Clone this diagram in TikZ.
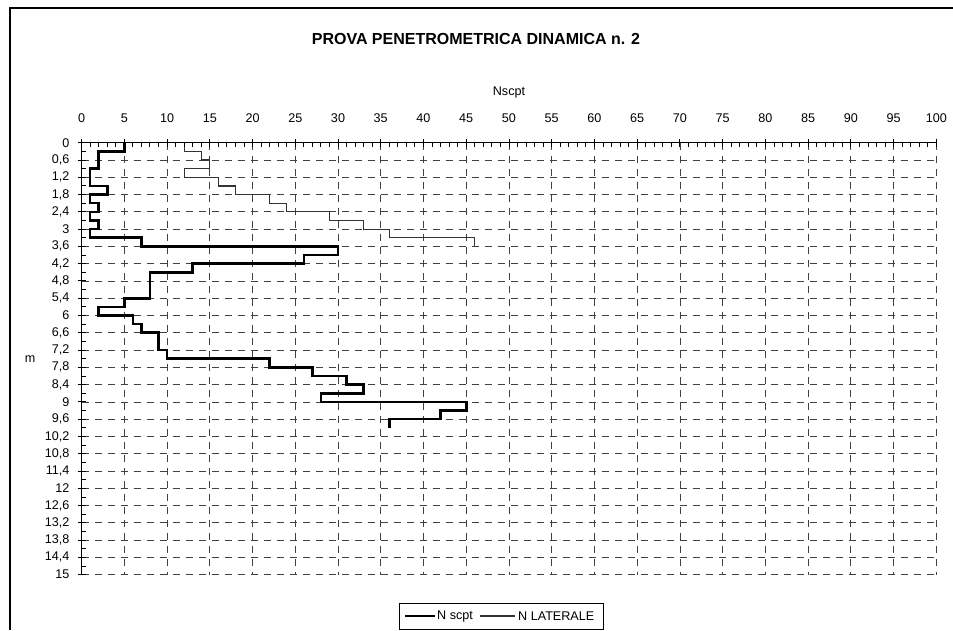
\documentclass[tikz,border=0pt]{standalone}
\usepackage{fontspec}
\setmainfont{Liberation Sans}
\begin{document}
\begin{tikzpicture}[x=1pt,y=-1pt,
  font=\fontsize{12.6}{14}\selectfont,
  gridline/.style={black!75, line width=0.8pt, dash pattern=on 7pt off 6pt},
  axisline/.style={black, line width=1.2pt},
  tickline/.style={black, line width=0.9pt},
  nscpt/.style={black, line width=2.6pt, line join=miter},
  nlat/.style={black!80, line width=1.2pt, line join=miter},
  lbl/.style={inner sep=0pt}]
\useasboundingbox (0,0) rectangle (953,630);
\fill[white] (0,0) rectangle (953,630);
% frame
\coordinate (fa) at (10,630);
\coordinate (fb) at (10,8);
\coordinate (fc) at (953,8);
\draw[line width=1.2pt] (fa) -- (fb) -- (fc);
% titles
\node[lbl, font=\bfseries\fontsize{16}{19}\selectfont] (title) at (476,39) {PROVA PENETROMETRICA DINAMICA n. 2};
\node[lbl] (xlab) at (509,92) {Nscpt};
\node[lbl] (ylab) at (30,359) {m};
\begin{scope}[shift={(81.56pt,-142.7pt)}, x=8.548pt, y=-28.8pt]
  % grid
  \foreach \i in {5,10,...,100} \draw[gridline] (\i,0) -- (\i,15);
  \foreach \j in {1,...,25} \draw[gridline] (0,{0.6*\j}) -- (100,{0.6*\j});
  % curves
  \draw[nlat] (12,0) -- (12,0.3) -- (14,0.3) -- (14,0.6) -- (15,0.6) -- (15,0.9) -- (12,0.9) -- (12,1.2) -- (16,1.2) -- (16,1.5) -- (18,1.5) -- (18,1.8) -- (22,1.8) -- (22,2.1) -- (24,2.1) -- (24,2.4) -- (29,2.4) -- (29,2.7) -- (33,2.7) -- (33,3.0) -- (36,3.0) -- (36,3.3) -- (46,3.3) -- (46,3.6);
  \draw[nscpt] (5,0) -- (5,0.3) -- (2,0.3) -- (2,0.9) -- (1,0.9) -- (1,1.5) -- (3,1.5) -- (3,1.8) -- (1,1.8) -- (1,2.1) -- (2,2.1) -- (2,2.4) -- (1,2.4) -- (1,2.7) -- (2,2.7) -- (2,3.0) -- (1,3.0) -- (1,3.3) -- (7,3.3) -- (7,3.6) -- (30,3.6) -- (30,3.9) -- (26,3.9) -- (26,4.2) -- (13,4.2) -- (13,4.5) -- (8,4.5) -- (8,5.4) -- (5,5.4) -- (5,5.7) -- (2,5.7) -- (2,6.0) -- (6,6.0) -- (6,6.3) -- (7,6.3) -- (7,6.6) -- (9,6.6) -- (9,7.2) -- (10,7.2) -- (10,7.5) -- (22,7.5) -- (22,7.8) -- (27,7.8) -- (27,8.1) -- (31,8.1) -- (31,8.4) -- (33,8.4) -- (33,8.7) -- (28,8.7) -- (28,9.0) -- (45,9.0) -- (45,9.3) -- (42,9.3) -- (42,9.6) -- (36,9.6) -- (36,9.9);
  % axes
  \coordinate (o) at (0,0);
  \coordinate (xe) at (100,0);
  \coordinate (ye) at (0,15);
  \draw[axisline] (ye) -- (o) -- (xe);
  % ticks
  \foreach \i in {1,...,100} \draw[tickline] (\i,0) -- ++(0pt,-4pt);
  \foreach \i in {0,5,...,100} \draw[tickline] (\i,0) ++(0pt,4pt) -- ++(0pt,-8pt);
  \foreach \j in {0,...,24} \draw[tickline] (0,{0.6*\j+0.3}) -- ++(4pt,0pt);
  \foreach \j in {0,...,25} \draw[tickline] (0,{0.6*\j}) ++(-4pt,0pt) -- ++(8pt,0pt);
  % tick labels
  \foreach \i in {0,5,...,100} \node[lbl, yshift=24.7pt] (xt\i) at (\i,0) {\i};
  \foreach \lab [count=\k from 0] in {{0},{0,6},{1,2},{1,8},{2,4},{3},{3,6},{4,2},{4,8},{5,4},{6},{6,6},{7,2},{7,8},{8,4},{9},{9,6},{10,2},{10,8},{11,4},{12},{12,6},{13,2},{13,8},{14,4},{15}}
    \node[lbl, anchor=east, xshift=-12pt] (yt\k) at (0,{0.6*\k}) {\lab};
\end{scope}
% legend
\node[draw, line width=0.8pt, minimum width=204pt, minimum height=26pt, inner sep=0pt] (legbox) at (501,616) {};
\coordinate (l1a) at (405,616);
\coordinate (l1b) at (435,616);
\draw[nscpt, line width=2.2pt] (l1a) -- (l1b);
\node[lbl, anchor=west] (leg1) at (437,616) {N scpt};
\coordinate (l2a) at (480,616);
\coordinate (l2b) at (515,616);
\draw[nlat] (l2a) -- (l2b);
\node[lbl, anchor=west] (leg2) at (518,616) {N LATERALE};
\end{tikzpicture}
\end{document}
